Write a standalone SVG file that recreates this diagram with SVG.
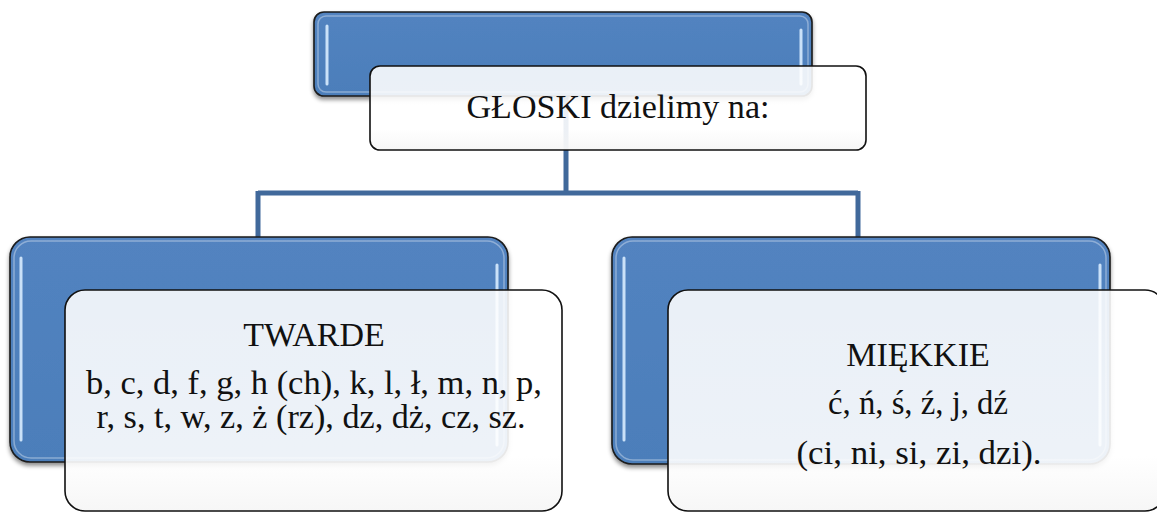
<svg xmlns="http://www.w3.org/2000/svg" width="1157" height="512" viewBox="0 0 1157 512">
<defs>
<style>
.blue{fill:url(#blueGrad);stroke:#1a1a1a;stroke-width:1.6}
.gloss{stroke:#d8ecff;stroke-width:3;stroke-linecap:round;opacity:0.9}
.inner{fill:none;stroke:#ffffff;stroke-opacity:0.35;stroke-width:1.5}
.white{fill:url(#whiteGrad);stroke:#111;stroke-width:1.6}
.t{font-family:"Liberation Serif","Times New Roman",serif;font-size:34px;fill:#111;text-anchor:middle}
.conn{fill:none;stroke:#41699b;stroke-width:5}
</style>
<linearGradient id="blueGrad" x1="0" y1="0" x2="0" y2="1">
<stop offset="0" stop-color="#5283c0"/>
<stop offset="1" stop-color="#4c7eba"/>
</linearGradient>
<linearGradient id="whiteGrad" x1="0" y1="0" x2="0" y2="1">
<stop offset="0" stop-color="#ffffff" stop-opacity="0.88"/>
<stop offset="0.75" stop-color="#ffffff" stop-opacity="0.9"/>
<stop offset="1" stop-color="#f6f6f6" stop-opacity="0.97"/>
</linearGradient>
<filter id="sh" x="-10%" y="-10%" width="120%" height="130%">
<feDropShadow dx="0" dy="3" stdDeviation="2" flood-color="#000" flood-opacity="0.45"/>
</filter>
</defs>

<g id="connectors">
<path class="conn" d="M566 96 V193 M258 193 H858 M258 191 V237 M858 191 V237"/>
</g>

<g id="node-top">
<rect class="blue" x="314" y="12" width="498" height="84" rx="10" filter="url(#sh)"/>
<rect class="inner" x="318" y="16" width="490" height="76" rx="8"/>
<line class="gloss" x1="327" y1="26" x2="327" y2="84"/>
<line class="gloss" x1="801" y1="30" x2="801" y2="84"/>
<rect class="white" x="370" y="66" width="496" height="84" rx="10"/>
<text class="t" x="618" y="118" textLength="303" lengthAdjust="spacingAndGlyphs">GŁOSKI dzielimy na:</text>
</g>

<g id="node-left">
<rect class="blue" x="10" y="237" width="498" height="225" rx="20" filter="url(#sh)"/>
<rect class="inner" x="14" y="241" width="490" height="217" rx="17"/>
<line class="gloss" x1="21" y1="258" x2="21" y2="440"/>
<line class="gloss" x1="497" y1="265" x2="497" y2="445"/>
<rect class="white" x="65" y="290" width="497" height="221" rx="20"/>
<text class="t" x="314" y="346">TWARDE</text>
<text class="t" x="314" y="394" textLength="456" lengthAdjust="spacingAndGlyphs">b, c, d, f, g, h (ch), k, l, ł, m, n, p,</text>
<text class="t" x="311" y="428" textLength="429" lengthAdjust="spacingAndGlyphs">r, s, t, w, z, ż (rz), dz, dż, cz, sz.</text>
</g>

<g id="node-right">
<rect class="blue" x="612" y="237" width="498" height="227" rx="20" filter="url(#sh)"/>
<rect class="inner" x="616" y="241" width="490" height="219" rx="17"/>
<line class="gloss" x1="624" y1="258" x2="624" y2="440"/>
<line class="gloss" x1="1100" y1="265" x2="1100" y2="445"/>
<rect class="white" x="668" y="290" width="497" height="221" rx="20"/>
<text class="t" x="918" y="366">MIĘKKIE</text>
<text class="t" x="918" y="414" textLength="180" lengthAdjust="spacingAndGlyphs">ć, ń, ś, ź, j, dź</text>
<text class="t" x="919" y="464" textLength="245" lengthAdjust="spacingAndGlyphs">(ci, ni, si, zi, dzi).</text>
</g>
</svg>
